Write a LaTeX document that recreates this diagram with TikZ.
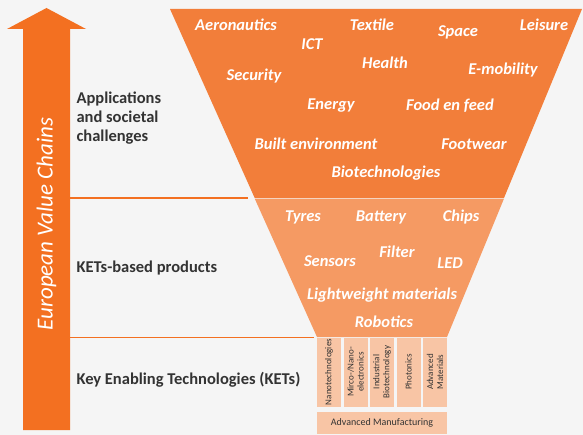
\documentclass[tikz,border=0pt]{standalone}
\usepackage{fontspec}
\setmainfont{Carlito}
\usetikzlibrary{positioning}
\definecolor{evcorange}{HTML}{F37021}
\definecolor{apporange}{HTML}{F27E3A}
\definecolor{prodorange}{HTML}{F59A63}
\definecolor{ketpeach}{HTML}{F8C5A5}
\definecolor{bggray}{HTML}{F5F5F5}
\definecolor{lbltext}{HTML}{333333}
\begin{document}
\begin{tikzpicture}[x=1pt,y=-1pt,
  levellbl/.style={anchor=west,align=left,text=lbltext,font=\fontsize{16.5}{19}\selectfont\bfseries},
  funnellbl/.style={text=white,font=\fontsize{16.5}{18}\selectfont\bfseries\itshape},
  ketlbl/.style={rotate=90,align=center,text=lbltext,font=\fontsize{9}{10}\selectfont},
  sepline/.style={evcorange,line width=1.6pt}]
\fill[bggray] (0,0) rectangle (583,435);
% value chain arrow
\fill[evcorange] (23,430)--(23,29)--(7,29)--(46.5,8)--(86,29)--(70,29)--(70,430)--cycle;
\node[rotate=90,text=white,font=\fontsize{23}{26}\selectfont\itshape] (evc) at (46.5,224) {European Value Chains};
% funnel
\fill[apporange] (170,9)--(582,9)--(504,198)--(254.7,198)--cycle;
\fill[prodorange] (254.7,198.6)--(504,198.6)--(447,337)--(317,337)--cycle;
% separators
\coordinate (s1a) at (70,198);
\coordinate (s1b) at (248,198);
\coordinate (s2a) at (70,337.5);
\coordinate (s2b) at (314,337.5);
\draw[sepline] (s1a)--(s1b);
\draw[sepline] (s2a)--(s2b);
% level labels
\node[levellbl] (apps) at (73,118) {Applications\\and societal\\challenges};
\node[levellbl] (prods) at (73,268) {KETs-based products};
\node[levellbl] (kets) at (73,380) {Key Enabling Technologies (KETs)};
% applications
\node[funnellbl] (aero) at (236,25) {Aeronautics};
\node[funnellbl] (ict) at (312,44) {ICT};
\node[funnellbl] (textile) at (372,25) {Textile};
\node[funnellbl] (space) at (458,32) {Space};
\node[funnellbl] (leisure) at (544,25) {Leisure};
\node[funnellbl] (security) at (254,76) {Security};
\node[funnellbl] (health) at (385,63) {Health};
\node[funnellbl] (emob) at (503,70) {E-mobility};
\node[funnellbl] (energy) at (331,106) {Energy};
\node[funnellbl] (food) at (450,106) {Food en feed};
\node[funnellbl] (built) at (316,144) {Built environment};
\node[funnellbl] (footwear) at (474,144) {Footwear};
\node[funnellbl] (biotech) at (386,173) {Biotechnologies};
% products
\node[funnellbl] (tyres) at (303,217) {Tyres};
\node[funnellbl] (battery) at (381,217) {Battery};
\node[funnellbl] (chips) at (461,217) {Chips};
\node[funnellbl] (sensors) at (330,261) {Sensors};
\node[funnellbl] (filter) at (397,252) {Filter};
\node[funnellbl] (led) at (450,263) {LED};
\node[funnellbl] (light) at (382,295) {Lightweight materials};
\node[funnellbl] (robotics) at (384,322) {Robotics};
% key enabling technologies
\foreach \x/\ket/\txt in {317/nano/Nanotechnologies,343.5/micro/{Mirco-/Nano-\\electronics},370/indbio/{Industrial\\Biotechnology},396.5/photon/Photonics,423/advmat/{Advanced\\Materials}}{
  \fill[ketpeach] (\x,337.5) rectangle (\x+24,407);
  \node[ketlbl] (\ket) at (\x+12,372) {\txt};
}
\fill[ketpeach] (317,412) rectangle (447,434);
\node[text=lbltext,font=\fontsize{10}{11}\selectfont] (advman) at (382,423) {Advanced Manufacturing};
\end{tikzpicture}
\end{document}
